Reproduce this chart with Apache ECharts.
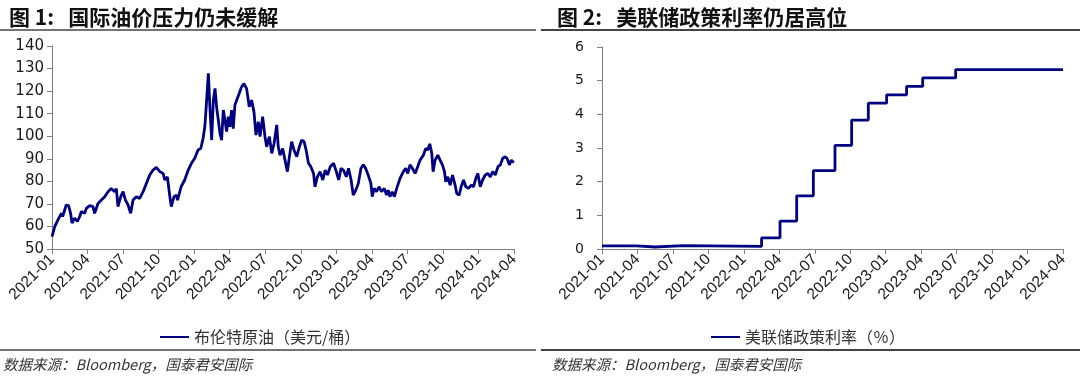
<!DOCTYPE html>
<html>
<head>
<meta charset="utf-8">
<script src="https://cdn.jsdelivr.net/npm/echarts@6/dist/echarts.min.js"></script>
<style>
  html, body { margin: 0; padding: 0; background: #fff; }
  #main { width: 1080px; height: 377px; }
</style>
</head>
<body>
<div id="main"></div>
<script>
// x positions are months counted from 2021-01 (0 .. 39)
var tickLabels = ['2021-01', '2021-04', '2021-07', '2021-10', '2022-01', '2022-04', '2022-07',
    '2022-10', '2023-01', '2023-04', '2023-07', '2023-10', '2024-01', '2024-04'];

var oilMonth = [0, 0.23, 0.5, 0.79, 0.9, 1.2, 1.4, 1.57, 1.69, 1.91, 2.14, 2.34, 2.48, 2.76, 2.9,
    3.18, 3.46, 3.6, 3.88, 4.17, 4.45, 4.73, 5.0, 5.15, 5.29, 5.43, 5.57, 5.8, 6.0, 6.2, 6.42, 6.64,
    6.84, 7.12, 7.4, 7.69, 7.97, 8.25, 8.53, 8.81, 9.1, 9.38, 9.52, 9.74, 9.93, 10.07, 10.3, 10.5,
    10.6, 10.9, 11.2, 11.5, 11.77, 12.05, 12.33, 12.56, 12.75, 12.9, 13.0, 13.2, 13.34, 13.48, 13.62,
    13.76, 13.9, 14.04, 14.18, 14.32, 14.46, 14.6, 14.74, 14.88, 15.02, 15.16, 15.3, 15.44, 15.58,
    15.8, 16.0, 16.2, 16.43, 16.65, 16.85, 17.05, 17.22, 17.42, 17.56, 17.78, 17.98, 18.12, 18.35,
    18.55, 18.75, 18.97, 19.1, 19.25, 19.47, 19.67, 19.87, 20.04, 20.23, 20.43, 20.66, 20.88, 21.08,
    21.28, 21.45, 21.65, 21.85, 22.08, 22.2, 22.4, 22.63, 22.86, 23.06, 23.26, 23.49, 23.77, 24.0,
    24.2, 24.4, 24.6, 24.84, 25.03, 25.25, 25.43, 25.65, 25.86, 26.08, 26.28, 26.47, 26.69, 26.92,
    27.03, 27.2, 27.4, 27.6, 27.82, 28.05, 28.24, 28.38, 28.53, 28.72, 28.9, 29.1, 29.38, 29.66,
    29.86, 30.03, 30.22, 30.42, 30.65, 30.87, 31.07, 31.35, 31.55, 31.72, 31.89, 32.06, 32.17, 32.34,
    32.57, 32.76, 32.96, 33.13, 33.24, 33.41, 33.61, 33.81, 34.03, 34.17, 34.37, 34.54, 34.74, 34.93,
    35.16, 35.39, 35.58, 35.78, 35.95, 36.15, 36.35, 36.57, 36.8, 37.0, 37.2, 37.42, 37.65, 37.85,
    38.05, 38.22, 38.41, 38.61, 38.78, 38.98];
var oilPrice = [55.5, 59.9, 62.9, 65.8, 64.4, 69.5, 69.2, 65.8, 61.5, 63.7, 62.2, 64.4, 66.6, 65.8, 68.0,
    69.2, 68.8, 65.8, 70.2, 71.7, 73.2, 75.4, 76.8, 76.1, 75.4, 76.8, 68.8, 73.2, 75.4, 71.7, 69.5, 65.8,
    71.7, 73.2, 72.4, 75.4, 79.1, 82.8, 85.0, 86.2, 84.3, 83.5, 80.6, 82.0, 73.9, 68.8, 73.2, 73.9,
    71.7, 77.6, 80.6, 85.0, 88.0, 90.2, 93.9, 94.6, 99.0, 104.2, 111.6, 127.9, 111.6, 98.3, 116.0,
    121.2, 112.7, 107.2, 101.2, 98.3, 111.6, 107.2, 102.1, 108.7, 104.2, 111.6, 103.4, 113.8, 113.0,
    118.9, 121.8, 123.3, 121.1, 113.0, 116.0, 110.8, 100.5, 106.4, 99.8, 108.7, 99.8, 95.3, 99.8,
    92.4, 96.9, 105.0, 95.3, 91.6, 94.6, 89.4, 84.3, 90.9, 97.6, 93.9, 90.9, 95.3, 98.3,
    97.6, 93.9, 88.0, 86.5, 83.5, 77.6, 82.0, 84.3, 80.6, 85.0, 82.8, 86.5, 88.0, 84.3,
    80.6, 85.8, 85.0, 82.0, 85.8, 80.6, 73.9, 76.1, 79.1, 85.8, 87.3, 85.8, 82.8, 79.1,
    73.2, 76.9, 75.4, 77.6, 75.4, 76.9, 73.9, 76.1, 73.2, 75.4, 73.2, 76.9, 81.3, 84.3,
    85.8, 83.5, 87.3, 85.8, 83.5, 86.5, 89.4, 91.6, 94.6, 93.9, 96.6, 92.4, 84.3, 89.4,
    91.6, 89.4, 87.3, 84.3, 79.8, 82.0, 78.3, 82.8, 78.3, 74.6, 73.9, 77.6, 80.6, 77.6,
    76.9, 78.3, 77.6, 81.3, 83.5, 77.6, 80.6, 82.8, 83.5, 82.0, 84.3, 82.8, 86.5, 87.3,
    90.2, 90.9, 90.2, 87.3, 89.4, 88.3];

// policy rate: month where each level starts, and the level
var rateMonth = [0, 2.93, 4.48, 6.87, 13.5, 15.06, 16.47, 17.88, 19.71, 21.12, 22.53, 24.08, 25.77, 27.13, 29.92, 39];
var rateValue = [0.09, 0.06, 0.1, 0.08, 0.33, 0.83, 1.58, 2.33, 3.08, 3.83, 4.33, 4.58, 4.83, 5.08, 5.33, 5.33];

var oilName = '布伦特原油（美元/桶）';
var rateName = '美联储政策利率（％）';

function zip(a, b) {
    var out = [];
    for (var i = 0; i < a.length; i++) out.push([a[i], b[i]]);
    return out;
}

var numFont = '"DejaVu Sans", sans-serif';
var tickFont = 'Liberation Sans';
var cjkFont = '"Noto Sans CJK SC", sans-serif';
var axisGray = '#808080';

function xAxisFor(gridIndex) {
    return {
        type: 'value', gridIndex: gridIndex,
        min: 0, max: 39, interval: 3,
        splitLine: { show: false },
        axisLine: { lineStyle: { color: axisGray } },
        axisTick: { length: 5, lineStyle: { color: axisGray } },
        axisLabel: {
            rotate: 45, margin: 8, fontSize: 15.5, color: '#1a1a1a', fontFamily: tickFont,
            formatter: function (v) { return tickLabels[Math.round(v / 3)]; }
        }
    };
}

var myChart = echarts.init(document.getElementById('main'));
var option = {
    backgroundColor: '#fff',
    animation: false,
    title: [
        { text: '图 1:   国际油价压力仍未缓解', left: 4, top: 2,
          textStyle: { fontSize: 21, fontWeight: 'bold', color: '#111', fontFamily: cjkFont } },
        { text: '图 2:   美联储政策利率仍居高位', left: 552, top: 2,
          textStyle: { fontSize: 21, fontWeight: 'bold', color: '#111', fontFamily: cjkFont } }
    ],
    grid: [
        { left: 52, top: 46, width: 462, height: 203 },
        { left: 602, top: 47, width: 461, height: 202 }
    ],
    legend: [
        { data: [oilName], left: 160, top: 329, padding: 0, icon: 'rect', itemWidth: 29, itemHeight: 2, itemGap: 4,
          textStyle: { fontSize: 16, color: '#333', fontFamily: cjkFont } },
        { data: [rateName], left: 711, top: 329, padding: 0, icon: 'rect', itemWidth: 29, itemHeight: 2, itemGap: 4,
          textStyle: { fontSize: 16, color: '#333', fontFamily: cjkFont } }
    ],
    xAxis: [xAxisFor(0), xAxisFor(1)],
    yAxis: [
        { type: 'value', gridIndex: 0, min: 50, max: 140, interval: 10,
          splitLine: { show: false },
          axisLine: { show: true, lineStyle: { color: axisGray } },
          axisTick: { show: true, length: 5, lineStyle: { color: axisGray } },
          axisLabel: { margin: 8, fontSize: 15, color: '#1a1a1a', fontFamily: numFont } },
        { type: 'value', gridIndex: 1, min: 0, max: 6, interval: 1,
          splitLine: { show: false },
          axisLine: { show: true, lineStyle: { color: axisGray } },
          axisTick: { show: true, length: 5, lineStyle: { color: axisGray } },
          axisLabel: { margin: 18, fontSize: 14, color: '#1a1a1a', fontFamily: numFont } }
    ],
    series: [
        { name: oilName, type: 'line', xAxisIndex: 0, yAxisIndex: 0,
          data: zip(oilMonth, oilPrice), symbol: 'none', color: '#000080',
          lineStyle: { width: 2.8, color: '#000080' } },
        { name: rateName, type: 'line', xAxisIndex: 1, yAxisIndex: 1, step: 'end',
          data: zip(rateMonth, rateValue), symbol: 'none', color: '#000080',
          lineStyle: { width: 2.8, color: '#000080' } }
    ],
    graphic: [
        { type: 'line', shape: { x1: 0, y1: 30, x2: 536, y2: 30 }, style: { stroke: '#444', lineWidth: 1.5 } },
        { type: 'line', shape: { x1: 541, y1: 30, x2: 1080, y2: 30 }, style: { stroke: '#444', lineWidth: 2 } },
        { type: 'line', shape: { x1: 0, y1: 350, x2: 536, y2: 350 }, style: { stroke: '#444', lineWidth: 1.5 } },
        { type: 'line', shape: { x1: 541, y1: 350, x2: 1080, y2: 350 }, style: { stroke: '#444', lineWidth: 2 } },
        { type: 'text', left: 3, top: 357,
          style: { text: '数据来源：Bloomberg，国泰君安国际', fill: '#333', font: 'italic 14.5px ' + cjkFont } },
        { type: 'text', left: 552, top: 357,
          style: { text: '数据来源：Bloomberg，国泰君安国际', fill: '#333', font: 'italic 14.5px ' + cjkFont } }
    ]
};
myChart.setOption(option);
</script>
</body>
</html>
